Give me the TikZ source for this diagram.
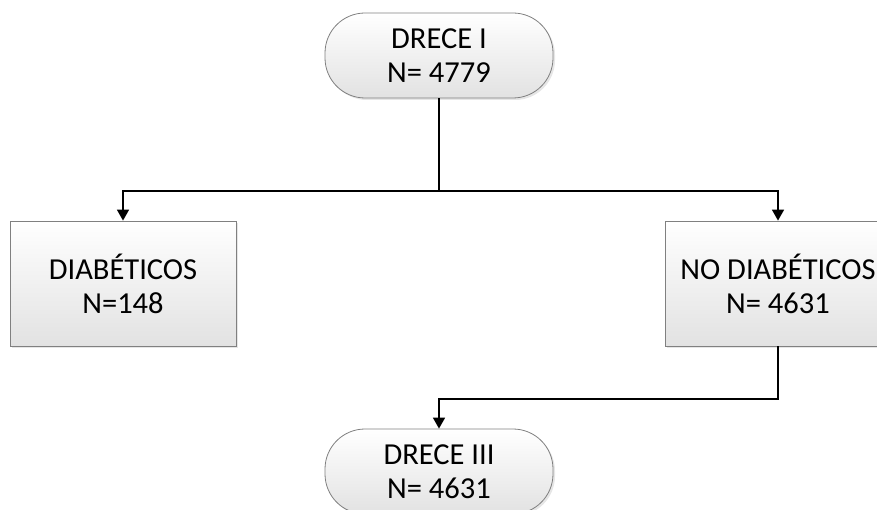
\documentclass[tikz,border=0pt]{standalone}
\usepackage{fontspec}
\setmainfont{Carlito}
\usepackage{tikz}
\usetikzlibrary{arrows.meta, shadows}
\definecolor{boxedge}{RGB}{128, 128, 128}
\definecolor{boxlow}{RGB}{226, 226, 226}

\begin{document}
\begin{tikzpicture}[
    x=1pt, y=-1pt,
    font=\fontsize{30.5}{34}\selectfont,
    cohort/.style={rectangle, rounded corners=40pt, draw=boxedge, line width=0.8pt,
        top color=white, bottom color=boxlow, minimum width=228pt, minimum height=85pt,
        align=center, inner sep=0pt, drop shadow={opacity=0.2, shadow xshift=2pt, shadow yshift=-2pt}},
    group/.style={rectangle, draw=boxedge, line width=0.8pt,
        top color=white, bottom color=boxlow, minimum width=226pt, minimum height=125pt,
        align=center, inner sep=0pt, drop shadow={opacity=0.2, shadow xshift=2pt, shadow yshift=-2pt}},
    edge/.style={-{Triangle[width=12pt, length=11pt]}, line width=1.6pt}
]
    \clip (0,0) rectangle (877,510);

    % Cohorts
    \node[cohort] (drece1) at (439,55.5) {DRECE I\\N= 4779};
    \node[group] (diab) at (123,283.5) {DIABÉTICOS\\N=148};
    \node[group] (nodiab) at (778,283.5) {NO DIABÉTICOS\\N= 4631};
    \node[cohort] (drece3) at (439,471.5) {DRECE III\\N= 4631};

    % Split points
    \coordinate (split) at (439,191);
    \coordinate (join) at (439,399);

    % Edges
    \draw[line width=1.6pt] (drece1) -- (split);
    \draw[edge] (split) -| (diab);
    \draw[edge] (split) -| (nodiab);
    \draw[edge] (nodiab) |- (join) -- (drece3);
\end{tikzpicture}
\end{document}
